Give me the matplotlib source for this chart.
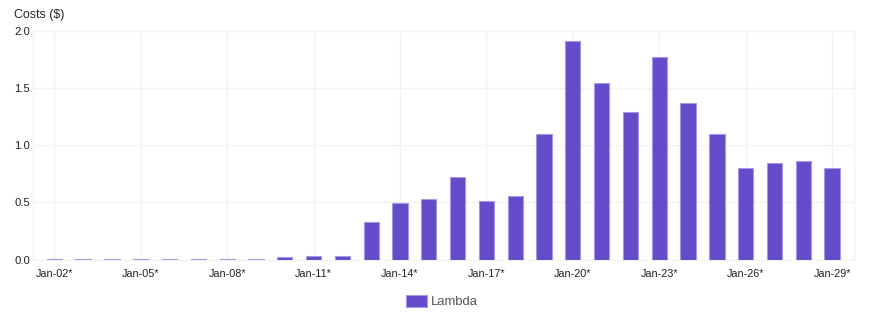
import matplotlib
matplotlib.use("Agg")
import matplotlib.pyplot as plt
import numpy as np

plt.rcParams['font.family'] = ['Liberation Sans', 'DejaVu Sans']

# Daily Lambda spend, Jan-02 .. Jan-29
days = ["Jan-%02d*" % d for d in range(2, 30)]
lambda_costs = [0.005, 0.005, 0.005, 0.005, 0.005, 0.005, 0.005, 0.005,
                0.02, 0.03, 0.028, 0.325, 0.497, 0.532, 0.723, 0.51,
                0.555, 1.095, 1.91, 1.546, 1.295, 1.769, 1.373, 1.095,
                0.803, 0.847, 0.858, 0.80]
y_ticks = [0.0, 0.5, 1.0, 1.5, 2.0]

bar_color = "#654bc9"
edge_color = "#a597e4"
grid_color = "#f2f2f2"
text_color = "#222222"

fig = plt.figure(figsize=(8.8, 3.29), dpi=100)
ax = fig.add_axes([33 / 880, 1 - 259.5 / 329, (854 - 33) / 880, (259.5 - 31) / 329])

x = np.arange(len(days))
ax.bar(x, lambda_costs, width=0.53, color=bar_color, edgecolor=edge_color,
       linewidth=0.8, label="Lambda", zorder=3)

ax.set_xlim(-0.74, len(days) - 1 + 0.76)
ax.set_ylim(0, 2.0)

tick_idx = x[::3]
ax.set_xticks(tick_idx)
ax.set_xticklabels([days[i] for i in tick_idx], fontsize=7.8, color=text_color)
ax.set_yticks(y_ticks)
ax.set_yticklabels(["%.1f" % v for v in y_ticks], fontsize=8.1, color=text_color)
ax.tick_params(axis='x', length=0, pad=6.5)
ax.tick_params(axis='y', length=0, pad=2)

ax.grid(True, color=grid_color, linewidth=1.0, zorder=0)
for side in ["left", "right", "top", "bottom"]:
    ax.spines[side].set_color(grid_color)
    ax.spines[side].set_linewidth(1.0)

fig.text(14 / 880, 1 - 15 / 329, "Costs ($)", fontsize=8.9, color=text_color,
         ha="left", va="center")

leg = fig.legend(loc="center", bbox_to_anchor=(442 / 880, 1 - 301.5 / 329),
                 frameon=False, fontsize=9.4, handlelength=1.6, handleheight=1.1,
                 handletextpad=0.3, borderaxespad=0, borderpad=0)
for t in leg.get_texts():
    t.set_color("#555555")

fig.savefig("out.png", dpi=100)
